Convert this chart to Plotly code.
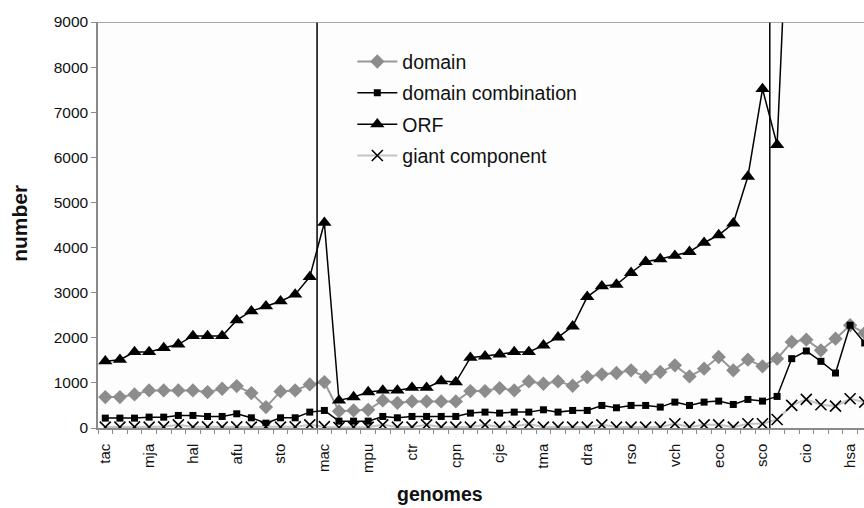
import plotly.graph_objects as go

tick_labels = ["tac", "mja", "hal", "afu", "sto", "mac", "mpu", "ctr", "cpn",
               "cje", "tma", "dra", "rso", "vch", "eco", "sco", "cio", "hsa"]
label_step = 3

domain = [685, 685, 744, 833, 833, 833, 833, 796, 870, 930, 774, 463, 811, 833, 967, 1019,
          374, 389, 404, 611, 559, 589, 589, 589, 589, 819, 819, 885, 833, 1033, 981, 1033,
          937, 1130, 1189, 1219, 1278, 1130, 1241, 1389, 1144, 1315, 1574, 1278, 1515, 1367, 1537,
          1907, 1959, 1722, 1981, 2278, 2107]
domain_combination = [219, 219, 219, 241, 241, 278, 278, 256, 256, 315, 226, 107, 226, 226, 352, 389,
                      152, 152, 152, 256, 226, 256, 256, 256, 256, 330, 352, 330, 352, 352, 404, 352,
                      389, 389, 500, 448, 500, 500, 463, 574, 500, 574, 596, 522, 633, 596, 700,
                      1537, 1707, 1478, 1219, 2278, 1885]
orf = [1480, 1515, 1685, 1685, 1775, 1855, 2040, 2040, 2040, 2390, 2590, 2700, 2810, 2960, 3350, 4550,
       611, 685, 796, 833, 833, 893, 893, 1041, 1019, 1559, 1589, 1633, 1685, 1685, 1833, 2010,
       2255, 2907, 3144, 3181, 3441, 3685, 3744, 3819, 3907, 4107, 4278, 4537, 5574, 7515, 6278,
       13600, 16000, 14500, 20000, 30000, 25000]
giant_component = [20, 20, 25, 20, 25, 70, 20, 25, 20, 25, 20, 30, 20, 25, 70, 30,
                   10, 20, 20, 70, 20, 20, 70, 20, 20, 20, 70, 20, 40, 90, 20, 20,
                   20, 20, 70, 20, 20, 20, 20, 93, 20, 70, 70, 20, 93, 93, 189,
                   500, 633, 515, 485, 648, 574]
dividers = [14.5, 45.5]

n = len(domain)
xs = list(range(n))
tickvals = [i * label_step for i in range(len(tick_labels))]

FONT = "Liberation Sans, Arial, Helvetica, sans-serif"

fig = go.Figure()
fig.add_trace(go.Scatter(
    x=xs, y=domain, name="domain", mode="lines+markers", legendgroup="a",
    line=dict(color="#989898", width=2),
    marker=dict(symbol="diamond", size=11, color="#8c8c8c")))
fig.add_trace(go.Scatter(
    x=xs, y=domain_combination, name="domain combination", mode="lines+markers", legendgroup="b",
    line=dict(color="#000000", width=1.5),
    marker=dict(symbol="square", size=7, color="#000000")))
fig.add_trace(go.Scatter(
    x=xs, y=orf, name="ORF", mode="lines+markers", legendgroup="c",
    line=dict(color="#000000", width=1.5),
    marker=dict(symbol="triangle-up", size=12.5, color="#000000")))
fig.add_trace(go.Scatter(
    x=xs, y=giant_component, name="giant component", mode="lines+markers", legendgroup="d",
    line=dict(color="#c4c4c4", width=2),
    marker=dict(symbol="x-thin", size=11, color="#000000",
                line=dict(color="#000000", width=1.6))))

for d in dividers:
    fig.add_shape(type="line", xref="x", yref="y", x0=d, x1=d, y0=0, y1=9050,
                  line=dict(color="#000000", width=1.5), layer="above")

fig.update_layout(
    width=864, height=508,
    margin=dict(l=98, r=0, t=22, b=80, autoexpand=False),
    paper_bgcolor="#ffffff", plot_bgcolor="#fdfdfd",
    font=dict(family=FONT, color="#1a1a1a", size=15),
    showlegend=True,
    legend=dict(x=0.332, y=0.95, xanchor="left", yanchor="top",
                bgcolor="rgba(0,0,0,0)", font=dict(size=19.5, color="#111111"),
                tracegroupgap=3, itemwidth=40),
    xaxis=dict(range=[-0.5, 51.95], tickmode="array", tickvals=tickvals, ticktext=tick_labels,
               tickangle=-90, showgrid=False, zeroline=False, showline=True, automargin=False,
               linecolor="#8a8a8a", linewidth=1.5, ticks="", ticklabelstandoff=8,
               tickfont=dict(size=15, color="#111111"),
               minor=dict(tickmode="linear", tick0=-0.5, dtick=1, ticks="outside",
                          ticklen=4, tickcolor="#8a8a8a", tickwidth=1)),
    yaxis=dict(range=[0, 9000], dtick=1000, showgrid=False, zeroline=False, showline=True,
               automargin=False,
               linecolor="#8a8a8a", linewidth=1.5, ticks="outside", ticklen=5,
               tickcolor="#8a8a8a", tickfont=dict(size=15.5, color="#111111"), mirror=False),
    annotations=[
        dict(text="<b>number</b>", xref="paper", yref="paper", x=-0.102, y=0.505,
             xanchor="center", yanchor="middle", textangle=-90, showarrow=False,
             font=dict(size=21, color="#111111", family=FONT)),
        dict(text="<b>genomes</b>", xref="paper", yref="paper", x=0.446, y=-0.162,
             xanchor="center", yanchor="middle", showarrow=False,
             font=dict(size=19.5, color="#111111", family=FONT)),
    ],
)
fig.add_shape(type="line", xref="paper", yref="y", x0=0, x1=1, y0=9000, y1=9000,
              line=dict(color="#8a8a8a", width=1.5))

fig.write_html("out.html", config={"displayModeBar": False},
               post_script="document.body.style.margin='0px';document.body.style.overflow='hidden';")
